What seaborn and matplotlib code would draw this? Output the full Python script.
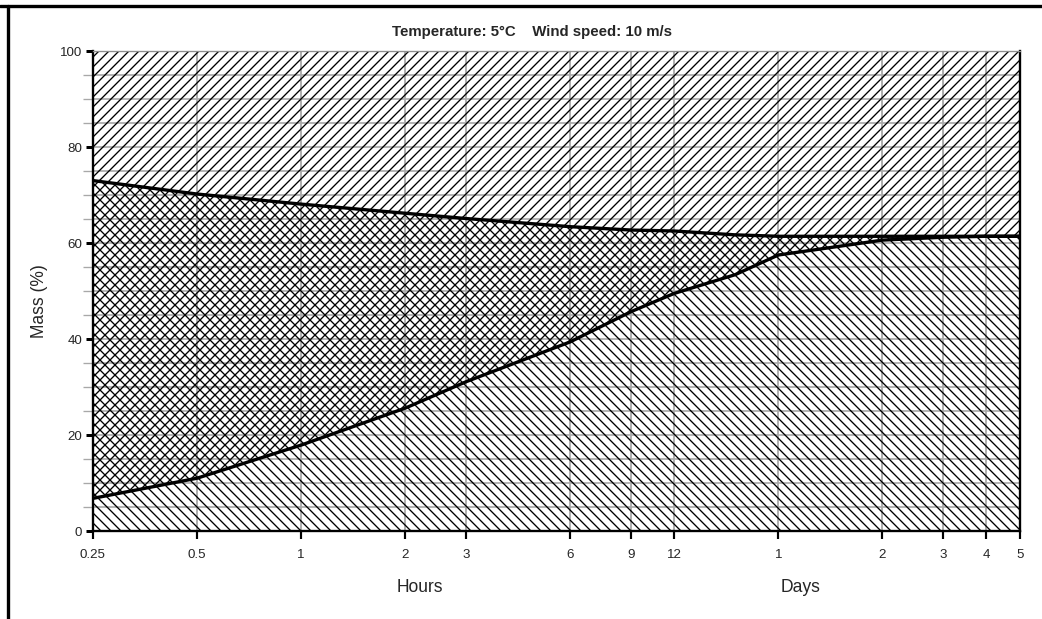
import numpy as np
import pandas as pd
import matplotlib
matplotlib.use('Agg')
import matplotlib.pyplot as plt
from matplotlib.lines import Line2D
from matplotlib.ticker import NullLocator
import seaborn as sns

# %% data (x in hours, log scale)
hours = [0.25, 0.5, 1, 2, 3, 6, 9, 12, 18, 24, 48, 72, 96, 120]
upper = [73.0, 70.2, 68.1, 66.2, 65.1, 63.4, 62.7, 62.5, 61.7, 61.4, 61.4, 61.4, 61.4, 61.4]
lower = [6.8, 11.0, 17.9, 25.6, 31.1, 39.4, 45.7, 49.5, 53.4, 57.5, 60.6, 61.2, 61.4, 61.4]

tick_pos = [0.25, 0.5, 1, 2, 3, 6, 9, 12, 24, 48, 72, 96, 120]
tick_lab = ['0.25', '0.5', '1', '2', '3', '6', '9', '12', '1', '2', '3', '4', '5']

df = pd.DataFrame({'hours': hours, 'upper': upper, 'lower': lower})

# %% style
sns.set_style('white')
plt.rcParams['font.family'] = ['Liberation Sans', 'DejaVu Sans']
plt.rcParams['hatch.linewidth'] = 0.8

fig = plt.figure(figsize=(1042/120, 619/120), dpi=120)
ax = fig.add_axes([93/1042, 1-531/619, 927/1042, 480/619])

# hatched regions: '/' above lower curve, '\' below upper curve -> crosshatch between
ax.fill_between(df['hours'], df['lower'], 100, facecolor='none', edgecolor='black',
                hatch='////', linewidth=0, zorder=1)
ax.fill_between(df['hours'], 0, df['upper'], facecolor='none', edgecolor='black',
                hatch='\\\\\\\\', linewidth=0, zorder=1)

sns.lineplot(data=df, x='hours', y='upper', color='black', linewidth=2.0, ax=ax, zorder=3)
sns.lineplot(data=df, x='hours', y='lower', color='black', linewidth=2.0, ax=ax, zorder=3)

ax.set_xscale('log')
ax.set_xlim(0.25, 120)
ax.set_ylim(0, 100)
ax.set_xticks(tick_pos)
ax.set_xticklabels(tick_lab)
ax.xaxis.set_minor_locator(NullLocator())
ax.set_yticks(range(0, 101, 20))
ax.set_yticks(range(0, 101, 5), minor=True)

ax.grid(axis='x', which='major', color='#a0a0a0', linewidth=1.0, zorder=0)
ax.grid(axis='y', which='both', color='#a8a8a8', linewidth=1.0, zorder=0)
ax.set_axisbelow(True)

ax.tick_params(axis='x', which='major', direction='out', length=4.5, width=1.3,
               color='black', labelsize=8, pad=6.5, bottom=True)
ax.tick_params(axis='y', which='major', direction='out', length=4.2, width=1.8,
               color='black', labelsize=8, pad=2.4, left=True)
ax.tick_params(axis='y', which='minor', direction='out', length=6, width=0.8,
               color='#a8a8a8', left=True)

for s in ['left', 'bottom', 'right']:
    ax.spines[s].set_color('black')
    ax.spines[s].set_linewidth(1.4)
ax.spines['top'].set_color('#909090')
ax.spines['top'].set_linewidth(0.8)

ax.set_xlabel('')
ax.set_ylabel('Mass (%)', fontsize=10.5)
ax.yaxis.set_label_coords(-0.049, 0.48)

fig.text(532/1042, 1-32/619, 'Temperature: 5°C    Wind speed: 10 m/s',
         ha='center', va='center', fontsize=9, fontweight='bold')
fig.text(420/1042, 1-592/619, 'Hours', ha='center', va='baseline', fontsize=10.5)
fig.text(801/1042, 1-592/619, 'Days', ha='center', va='baseline', fontsize=10.5)

# outer frame (top and left edges visible)
fig.add_artist(Line2D([0, 1], [1-6/619, 1-6/619], color='black', linewidth=2.0,
                      transform=fig.transFigure))
fig.add_artist(Line2D([7.5/1042, 7.5/1042], [0, 1-6/619], color='black', linewidth=2.0,
                      transform=fig.transFigure))

fig.savefig('out.png', dpi=120)
